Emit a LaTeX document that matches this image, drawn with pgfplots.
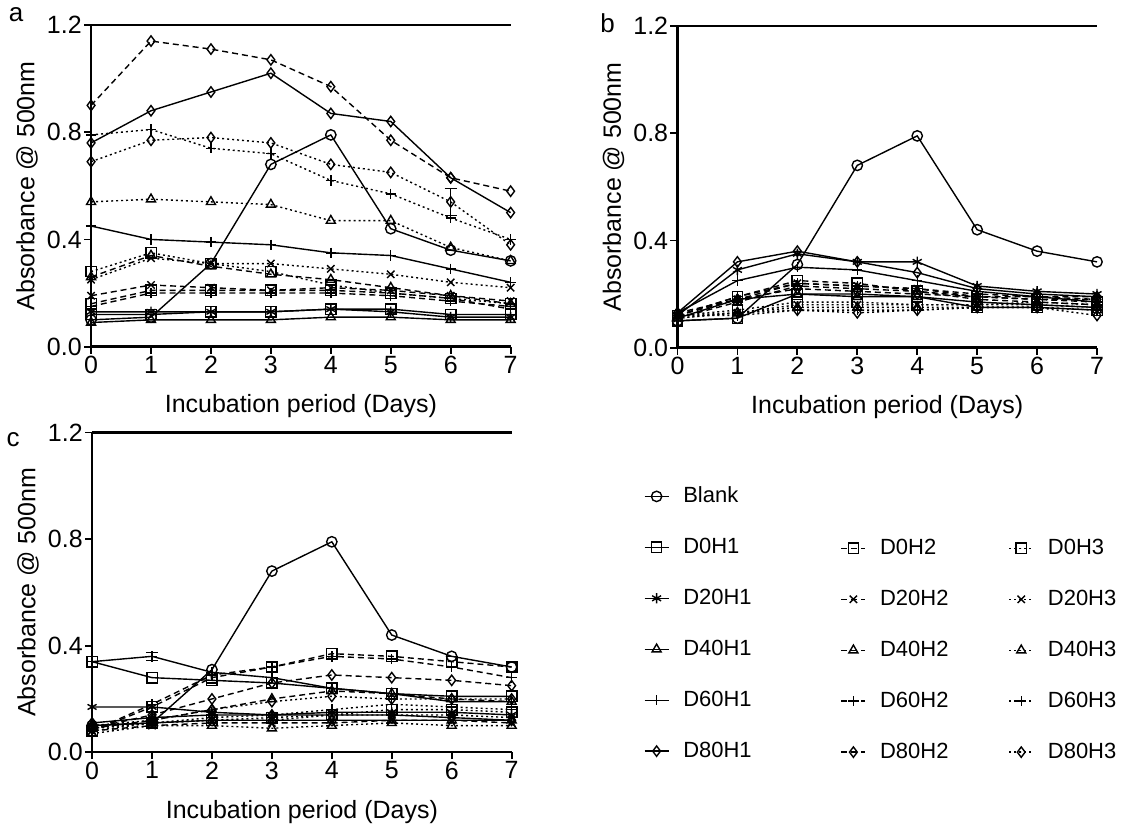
\documentclass[border=0pt]{standalone}
\usepackage{fontspec}
\setmainfont{Liberation Sans}
\usepackage{pgfplots}
\usepackage{pgfplotstable}
\pgfplotsset{compat=1.18}

% columns: day, blank, D0H1..D0H3, D20H1..D20H3, D40H1..D40H3, D60H1..D60H3, D80H1..D80H3
\pgfplotstableread{
day blank d0h1 d0h2 d0h3 d20h1 d20h2 d20h3 d40h1 d40h2 d40h3 d60h1 d60h2 d60h3 d80h1 d80h2 d80h3
0 0.10 0.12 0.16 0.28 0.13 0.19 0.25 0.09 0.26 0.54 0.45 0.15 0.79 0.76 0.90 0.69
1 0.11 0.12 0.21 0.35 0.13 0.23 0.33 0.10 0.34 0.55 0.40 0.20 0.81 0.88 1.14 0.77
2 0.31 0.13 0.21 0.31 0.13 0.22 0.31 0.10 0.30 0.54 0.39 0.20 0.74 0.95 1.11 0.78
3 0.68 0.13 0.21 0.28 0.13 0.21 0.31 0.10 0.27 0.53 0.38 0.20 0.72 1.02 1.07 0.76
4 0.79 0.14 0.21 0.23 0.14 0.22 0.29 0.11 0.25 0.47 0.35 0.20 0.62 0.87 0.97 0.68
5 0.44 0.14 0.20 0.20 0.13 0.21 0.27 0.11 0.22 0.47 0.34 0.19 0.57 0.84 0.77 0.65
6 0.36 0.12 0.18 0.18 0.11 0.19 0.24 0.10 0.19 0.37 0.29 0.17 0.48 0.63 0.63 0.54
7 0.32 0.12 0.14 0.16 0.11 0.17 0.22 0.10 0.16 0.32 0.24 0.15 0.40 0.50 0.58 0.38
}\tabA
\pgfplotstableread{
day blank d0h1 d0h2 d0h3 d20h1 d20h2 d20h3 d40h1 d40h2 d40h3 d60h1 d60h2 d60h3 d80h1 d80h2 d80h3
0 0.10 0.10 0.12 0.12 0.12 0.12 0.11 0.11 0.11 0.11 0.13 0.12 0.12 0.13 0.13 0.12
1 0.11 0.11 0.19 0.14 0.29 0.18 0.13 0.18 0.17 0.13 0.25 0.19 0.12 0.32 0.18 0.13
2 0.31 0.20 0.25 0.17 0.35 0.24 0.16 0.20 0.23 0.15 0.30 0.24 0.14 0.36 0.22 0.14
3 0.68 0.20 0.24 0.17 0.32 0.23 0.16 0.19 0.22 0.15 0.29 0.23 0.14 0.32 0.21 0.13
4 0.79 0.19 0.21 0.16 0.32 0.22 0.16 0.19 0.21 0.15 0.25 0.22 0.14 0.28 0.20 0.14
5 0.44 0.15 0.19 0.16 0.23 0.19 0.16 0.17 0.18 0.15 0.21 0.20 0.15 0.22 0.19 0.15
6 0.36 0.15 0.18 0.16 0.21 0.18 0.17 0.16 0.17 0.15 0.19 0.19 0.15 0.20 0.19 0.15
7 0.32 0.14 0.17 0.15 0.20 0.18 0.16 0.15 0.16 0.14 0.17 0.19 0.14 0.19 0.18 0.12
}\tabB
\pgfplotstableread{
day blank d0h1 d0h2 d0h3 d20h1 d20h2 d20h3 d40h1 d40h2 d40h3 d60h1 d60h2 d60h3 d80h1 d80h2 d80h3
0 0.10 0.34 0.08 0.08 0.17 0.08 0.09 0.10 0.09 0.07 0.34 0.08 0.09 0.11 0.09 0.10
1 0.11 0.28 0.17 0.11 0.17 0.10 0.11 0.11 0.12 0.10 0.36 0.18 0.11 0.13 0.14 0.12
2 0.31 0.27 0.28 0.12 0.15 0.11 0.12 0.12 0.16 0.10 0.30 0.29 0.13 0.14 0.20 0.16
3 0.68 0.26 0.32 0.13 0.14 0.11 0.12 0.12 0.20 0.09 0.28 0.32 0.14 0.14 0.26 0.19
4 0.79 0.24 0.37 0.14 0.15 0.11 0.14 0.12 0.23 0.10 0.24 0.36 0.16 0.14 0.29 0.21
5 0.44 0.22 0.36 0.16 0.15 0.12 0.14 0.12 0.22 0.11 0.22 0.35 0.18 0.14 0.28 0.20
6 0.36 0.21 0.34 0.16 0.15 0.12 0.14 0.12 0.20 0.10 0.19 0.32 0.17 0.13 0.27 0.20
7 0.32 0.21 0.32 0.15 0.14 0.11 0.13 0.12 0.19 0.10 0.19 0.28 0.16 0.12 0.25 0.20
}\tabC

\pgfplotsset{
  ser/.style={black, line width=0.7pt, mark size=2.6pt,
    mark options={solid, fill=none, line width=0.7pt}},
  h1/.style={ser, solid},
  h2/.style={ser, dash pattern=on 3pt off 2pt},
  h3/.style={ser, dash pattern=on 1pt off 1.5pt},
  panel/.style={
    scale only axis, width=210pt, height=161pt,
    xmin=0, xmax=7, ymin=0, ymax=1.2,
    xtick={0,...,7}, ytick={0,0.4,0.8,1.2},
    axis x line*=bottom, axis y line*=left,
    axis line style={line width=1.2pt, -},
    tick style={black, line width=0.9pt},
    tick align=outside, major tick length=3.5pt,
    yticklabel style={inner sep=1pt, /pgf/number format/.cd, fixed, fixed zerofill, precision=1},
    xticklabel style={inner sep=1pt},
    /pgf/number format/assume math mode=true,
    ticklabel style={font=\fontsize{12.5}{14}\selectfont},
    label style={font=\fontsize{12.5}{14}\selectfont},
    xlabel={Incubation period (Days)},
    ylabel={Absorbance @ 500nm},
    xlabel style={yshift=-6pt},
    clip=false,
  },
  leg/.style={
    hide axis, scale only axis, width=10pt, height=10pt,
    xmin=0, xmax=1, ymin=0, ymax=1, anchor=north west,
    legend cell align=left,
    legend style={at={(0,1)}, anchor=north west, draw=none, fill=none,
      font=\fontsize{11}{13}\selectfont, row sep=14pt, inner sep=0pt,
      column sep=7pt, nodes={inner sep=0pt, text height=9pt, text depth=2.5pt}},
    legend image code/.code={
      \draw[mark repeat=2, mark phase=2, ##1] plot coordinates {(0pt,0pt) (6pt,0pt) (12pt,0pt)};},
  },
}

\newcommand{\allseries}[1]{%
  \addplot[h1, mark=o] table[x=day, y=blank] {#1};
  \addplot[h1, mark=square] table[x=day, y=d0h1] {#1};
  \addplot[h2, mark=square] table[x=day, y=d0h2] {#1};
  \addplot[h3, mark=square] table[x=day, y=d0h3] {#1};
  \addplot[h1, mark=asterisk] table[x=day, y=d20h1] {#1};
  \addplot[h2, mark=x] table[x=day, y=d20h2] {#1};
  \addplot[h3, mark=x] table[x=day, y=d20h3] {#1};
  \addplot[h1, mark=triangle] table[x=day, y=d40h1] {#1};
  \addplot[h2, mark=triangle] table[x=day, y=d40h2] {#1};
  \addplot[h3, mark=triangle] table[x=day, y=d40h3] {#1};
  \addplot[h1, mark=+] table[x=day, y=d60h1] {#1};
  \addplot[h2, mark=+] table[x=day, y=d60h2] {#1};
  \addplot[h3, mark=+] table[x=day, y=d60h3] {#1};
  \addplot[h1, mark=diamond] table[x=day, y=d80h1] {#1};
  \addplot[h2, mark=diamond] table[x=day, y=d80h2] {#1};
  \addplot[h3, mark=diamond] table[x=day, y=d80h3] {#1};
  \draw[line width=1.2pt] (rel axis cs:0,1) -- (rel axis cs:1,1);
}

\begin{document}
\begin{tikzpicture}
\path (0,0) rectangle (573pt,414.5pt);

\begin{axis}[panel, at={(45pt,241pt)}, anchor=south west]
  \allseries{\tabA}
  \addplot[black, line width=0.7pt, mark=none, draw=none, forget plot,
    error bars/.cd, y dir=both, y explicit, error mark options={rotate=90, mark size=3pt, line width=0.7pt}]
    coordinates {(6,0.54) +- (0,0.05)};
\end{axis}

\begin{axis}[panel, at={(338.5pt,240.5pt)}, anchor=south west]
  \allseries{\tabB}
\end{axis}

\begin{axis}[panel, height=160pt, at={(45.5pt,38pt)}, anchor=south west]
  \allseries{\tabC}
  \addplot[black, line width=0.7pt, mark=none, draw=none, forget plot,
    error bars/.cd, y dir=both, y explicit, error mark options={rotate=90, mark size=3pt, line width=0.7pt}]
    coordinates {(1,0.36) +- (0,0.015)};
\end{axis}

\node[font=\fontsize{13}{15}\selectfont, anchor=center] at (7.5pt,407pt) {a};
\node[font=\fontsize{13}{15}\selectfont, anchor=center] at (303.5pt,403pt) {b};
\node[font=\fontsize{13}{15}\selectfont, anchor=center] at (6pt,194.5pt) {c};

\begin{axis}[leg, at={(321.5pt,172pt)}]
  \addlegendimage{h1, mark=o}\addlegendentry{Blank}
  \addlegendimage{h1, mark=square}\addlegendentry{D0H1}
  \addlegendimage{h1, mark=asterisk}\addlegendentry{D20H1}
  \addlegendimage{h1, mark=triangle}\addlegendentry{D40H1}
  \addlegendimage{h1, mark=+}\addlegendentry{D60H1}
  \addlegendimage{h1, mark=diamond}\addlegendentry{D80H1}
\end{axis}
\begin{axis}[leg, at={(420pt,146pt)}]
  \addlegendimage{h2, mark=square}\addlegendentry{D0H2}
  \addlegendimage{h2, mark=x}\addlegendentry{D20H2}
  \addlegendimage{h2, mark=triangle}\addlegendentry{D40H2}
  \addlegendimage{h2, mark=+}\addlegendentry{D60H2}
  \addlegendimage{h2, mark=diamond}\addlegendentry{D80H2}
\end{axis}
\begin{axis}[leg, at={(504pt,146pt)}]
  \addlegendimage{h3, mark=square}\addlegendentry{D0H3}
  \addlegendimage{h3, mark=x}\addlegendentry{D20H3}
  \addlegendimage{h3, mark=triangle}\addlegendentry{D40H3}
  \addlegendimage{h3, mark=+}\addlegendentry{D60H3}
  \addlegendimage{h3, mark=diamond}\addlegendentry{D80H3}
\end{axis}
\end{tikzpicture}
\end{document}
